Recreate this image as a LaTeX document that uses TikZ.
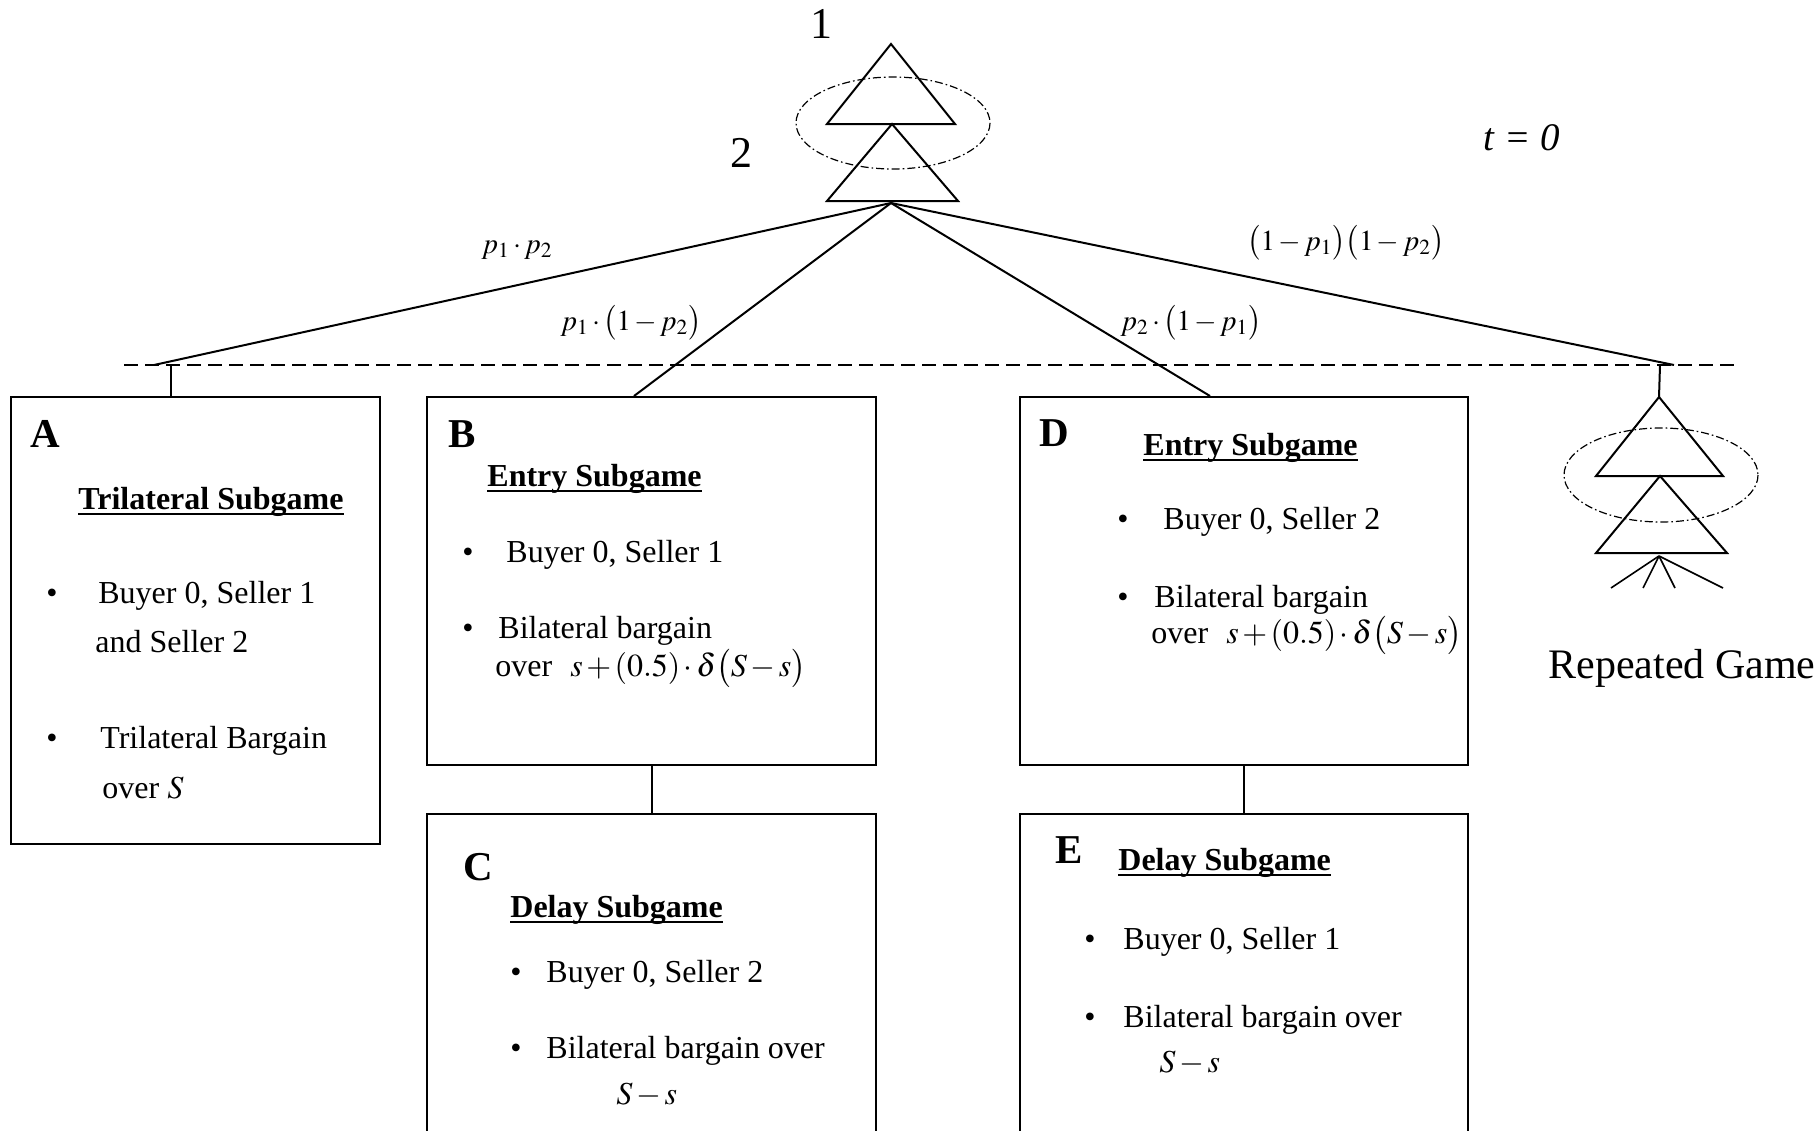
\documentclass[tikz,border=0pt]{standalone}
\usepackage{amsmath}
\usepackage{mathptmx}
\usepackage{fontspec}
\setmainfont{Liberation Serif}
\usepackage{tikz}

\medmuskip=2mu plus 1mu minus 1mu
\newsavebox{\headbox}
\newcommand{\subhead}[1]{\sbox{\headbox}{\bfseries #1}\rlap{\rule[-3.2pt]{\wd\headbox}{1.4pt}}\usebox{\headbox}}

\begin{document}
\begin{tikzpicture}[x=0.5pt,y=-0.5pt,
  box/.style={draw,line width=1pt,anchor=north west},
  edge/.style={line width=1pt},
  fine/.style={line width=0.8pt},
  letter/.style={anchor=base west,font=\fontsize{20.5}{24}\selectfont\bfseries},
  txt/.style={anchor=base west,font=\fontsize{16}{19}\selectfont},
  dot/.style={anchor=base,font=\fontsize{16}{19}\selectfont},
  prob/.style={anchor=base west,font=\fontsize{14.5}{18}\selectfont},
  mover/.style={anchor=base,font=\fontsize{22}{26}\selectfont},
  info/.style={dash pattern=on 4pt off 1.5pt on 0.8pt off 1.5pt,line width=0.6pt},
  level/.style={dash pattern=on 7pt off 3.5pt,line width=1pt}]
\tikzstyle{every node}+=[inner sep=0pt]
\useasboundingbox (0,0) rectangle (1814,1130);
% root: player 1 and player 2
\draw [edge] (891,44) -- (955,124) -- (827,124) -- cycle;
\draw [edge] (892,124) -- (958,201) -- (827,201) -- cycle;
\draw [info] (893,123) ellipse (97 and 46);
\node [mover] (one) at (821,38) {1};
\node [mover] (two) at (741,167) {2};
\node [anchor=base west,font=\fontsize{19.5}{23}\selectfont\itshape] (time) at (1483,150) {t = 0};
\coordinate (root) at (891,203);
% nature
\draw [level] (124,365) -- (1741,365);
\coordinate (endA) at (154,365);
\coordinate (stubA) at (171,365);
\coordinate (endB) at (634,396);
\coordinate (endD) at (1210,396);
\coordinate (endR) at (1674,365);
\coordinate (stubR) at (1660,365);
\node [box,minimum width=184.5pt,minimum height=223.5pt] (boxA) at (10,396) {};
\node [box,minimum width=224.5pt,minimum height=184pt] (boxB) at (426,396) {};
\node [box,minimum width=224.5pt,minimum height=165pt] (boxC) at (426,813) {};
\node [box,minimum width=224pt,minimum height=184pt] (boxD) at (1019,396) {};
\node [box,minimum width=224pt,minimum height=165pt] (boxE) at (1019,813) {};
\draw [edge] (root) -- (endA);
\draw [edge] (root) -- (endB);
\draw [edge] (root) -- (endD);
\draw [edge] (root) -- (endR);
\draw [edge] (stubA) -- (stubA |- boxA.north);
\draw [edge] (boxB.south) -- (boxC.north);
\draw [edge] (boxD.south) -- (boxE.north);
\node [prob] (pA) at (481,253) {$p_1\cdot p_2$};
\node [prob] (pB) at (560,330) {$p_1\cdot\bigl(1-p_2\bigr)$};
\node [prob] (pD) at (1120,330) {$p_2\cdot\bigl(1-p_1\bigr)$};
\node [prob] (pR) at (1247,250) {$\bigl(1-p_1\bigr)\bigl(1-p_2\bigr)$};
% A
\node [letter] (letA) at (30,447) {A};
\node [txt] (headA) at (78,509) {\subhead{Trilateral Subgame}};
\node [dot] (dotA1) at (52,603) {\textbullet};
\node [txt] (lineA1) at (98,603) {Buyer 0, Seller 1};
\node [txt] (lineA2) at (95,652) {and Seller 2};
\node [dot] (dotA2) at (52,748) {\textbullet};
\node [txt] (lineA3) at (100,748) {Trilateral Bargain};
\node [txt] (lineA4) at (102,798) {over $S$};
% B
\node [letter] (letB) at (448,447) {B};
\node [txt] (headB) at (487,486) {\subhead{Entry Subgame}};
\node [dot] (dotB1) at (468,562) {\textbullet};
\node [txt] (lineB1) at (506,562) {Buyer 0, Seller 1};
\node [dot] (dotB2) at (468,638) {\textbullet};
\node [txt] (lineB2) at (498,638) {Bilateral bargain};
\node [txt] (lineB3) at (495,676) {over\hspace{9pt}$s+(0.5)\cdot\delta\bigl(S-s\bigr)$};
% C
\node [letter] (letC) at (463,880) {C};
\node [txt] (headC) at (510,917) {\subhead{Delay Subgame}};
\node [dot] (dotC1) at (516,982) {\textbullet};
\node [txt] (lineC1) at (546,982) {Buyer 0, Seller 2};
\node [dot] (dotC2) at (516,1058) {\textbullet};
\node [txt] (lineC2) at (546,1058) {Bilateral bargain over};
\node [txt] (lineC3) at (616,1104) {$S-s$};
% D
\node [letter] (letD) at (1039,446) {D};
\node [txt] (headD) at (1143,455) {\subhead{Entry Subgame}};
\node [dot] (dotD1) at (1123,529) {\textbullet};
\node [txt] (lineD1) at (1163,529) {Buyer 0, Seller 2};
\node [dot] (dotD2) at (1123,607) {\textbullet};
\node [txt] (lineD2) at (1154,607) {Bilateral bargain};
\node [txt] (lineD3) at (1151,643) {over\hspace{9pt}$s+(0.5)\cdot\delta\bigl(S-s\bigr)$};
% E
\node [letter] (letE) at (1055,863) {E};
\node [txt] (headE) at (1118,870) {\subhead{Delay Subgame}};
\node [dot] (dotE1) at (1090,949) {\textbullet};
\node [txt] (lineE1) at (1123,949) {Buyer 0, Seller 1};
\node [dot] (dotE2) at (1090,1027) {\textbullet};
\node [txt] (lineE2) at (1123,1027) {Bilateral bargain over};
\node [txt] (lineE3) at (1159,1072) {$S-s$};
% repeated game
\coordinate (rep) at (1659,397);
\coordinate (fan) at (1659,556);
\draw [edge] (stubR) -- (rep);
\draw [edge] (rep) -- (1723,476) -- (1596,476) -- cycle;
\draw [edge] (1660,476) -- (1727,553) -- (1596,553) -- cycle;
\draw [info] (1661,475) ellipse (97 and 47);
\foreach \x in {1611,1643,1675,1723}
  \draw [fine] (fan) -- (\x,588);
\node [anchor=base west,font=\fontsize{21}{25}\selectfont] (repeated) at (1548,678) {Repeated Game};
\end{tikzpicture}
\end{document}
